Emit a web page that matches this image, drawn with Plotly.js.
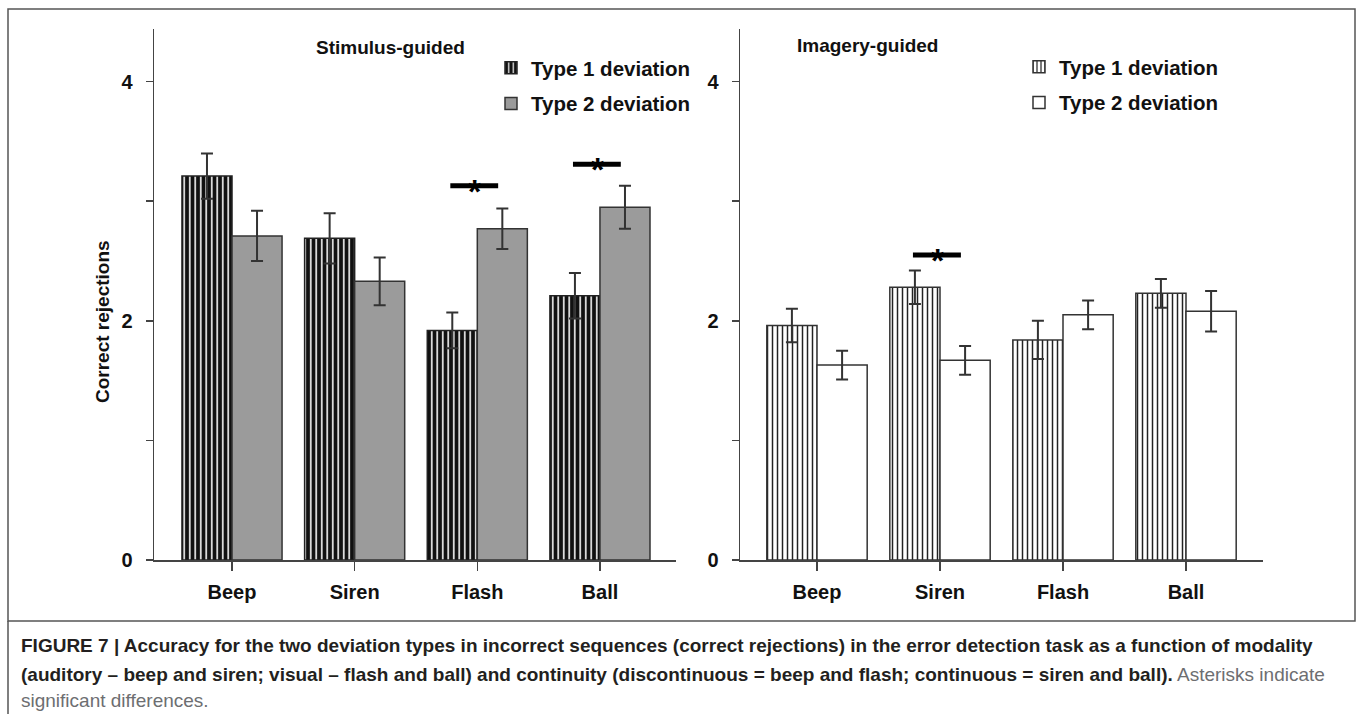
<!DOCTYPE html>
<html>
<head>
<meta charset="utf-8">
<script src="https://cdn.plot.ly/plotly-3.0.1.min.js"></script>
<style>html,body{margin:0;padding:0;background:#fff;}#chart{width:1357px;height:714px;}</style>
</head>
<body>
<div id="chart"></div>
<script>
// ---- data ----
const categories = ["Beep", "Siren", "Flash", "Ball"];
const seriesNames = ["Type 1 deviation", "Type 2 deviation"];

const stimType1 = [3.21, 2.69, 1.92, 2.21];
const stimType1Err = [0.19, 0.21, 0.15, 0.19];
const stimType2 = [2.71, 2.33, 2.77, 2.95];
const stimType2Err = [0.21, 0.20, 0.17, 0.18];

const imagType1 = [1.96, 2.28, 1.84, 2.23];
const imagType1Err = [0.14, 0.14, 0.16, 0.12];
const imagType2 = [1.63, 1.67, 2.05, 2.08];
const imagType2Err = [0.12, 0.12, 0.12, 0.17];

// significance markers: category and height
const stimSigCats = ["Flash", "Ball"];
const stimSigHeights = [3.13, 3.31];
const imagSigCats = ["Siren"];
const imagSigHeights = [2.55];

const yTickVals = [0, 1, 2, 3, 4];
const yTickText = ["0", "", "2", "", "4"];

const panelTitles = ["Stimulus-guided", "Imagery-guided"];
const yTitle = "Correct rejections";
const captionLines = [
  "<b>FIGURE 7 | Accuracy for the two deviation types in incorrect sequences (correct rejections) in the error detection task as a function of modality</b>",
  "<b>(auditory – beep and siren; visual – flash and ball) and continuity (discontinuous = beep and flash; continuous = siren and ball).</b><span style=\"color:#6d6e71\"> Asterisks indicate</span>",
  "<span style=\"color:#6d6e71\">significant differences.</span>"
];

// ---- geometry helpers ----
const W = 1357, H = 714;
const px = v => v / W;
const py = v => 1 - v / H;

const FONT = "Liberation Sans, Arial, Helvetica, sans-serif";
const lineCol = "#444";

const errStyle = arr => ({type: "data", array: arr, visible: true, color: "#333", thickness: 2, width: 6});

const traces = [
  {type: "bar", name: seriesNames[0], x: categories, y: stimType1, xaxis: "x", yaxis: "y",
   error_y: errStyle(stimType1Err), legend: "legend", legendgroup: "a1",
   marker: {color: "#111", line: {color: "#222", width: 1.5},
            pattern: {shape: "|", bgcolor: "#111", fgcolor: "#ffffff", size: 5.5, solidity: 0.28}}},
  {type: "bar", name: seriesNames[1], x: categories, y: stimType2, xaxis: "x", yaxis: "y",
   error_y: errStyle(stimType2Err), legend: "legend", legendgroup: "a2",
   marker: {color: "#9b9b9b", line: {color: "#333", width: 1.5}}},
  {type: "bar", name: seriesNames[0], x: categories, y: imagType1, xaxis: "x2", yaxis: "y2",
   error_y: errStyle(imagType1Err), legend: "legend2", legendgroup: "b1",
   marker: {color: "#ffffff", line: {color: "#333", width: 1.5},
            pattern: {shape: "|", bgcolor: "#ffffff", fgcolor: "#222", size: 5, solidity: 0.3}}},
  {type: "bar", name: seriesNames[1], x: categories, y: imagType2, xaxis: "x2", yaxis: "y2",
   error_y: errStyle(imagType2Err), legend: "legend2", legendgroup: "b2",
   marker: {color: "#ffffff", line: {color: "#333", width: 1.5}}}
];

const shapes = [];
const annotations = [];

function addSig(cats, heights, xr, yr) {
  cats.forEach((c, i) => {
    const idx = categories.indexOf(c);
    shapes.push({type: "line", xref: xr, yref: yr, x0: idx - 0.22, x1: idx + 0.17,
                 y0: heights[i], y1: heights[i], line: {color: "#000", width: 5}});
    annotations.push({xref: xr, yref: yr, x: idx - 0.02, y: heights[i], text: "*", showarrow: false,
                      font: {family: FONT, size: 34, color: "#000", weight: "bold"}, yshift: -5});
  });
}
addSig(stimSigCats, stimSigHeights, "x", "y");
addSig(imagSigCats, imagSigHeights, "x2", "y2");

// frame
shapes.push({type: "rect", xref: "paper", yref: "paper", x0: px(8), x1: px(1355), y0: py(621), y1: py(9),
             line: {color: "#555", width: 1.5}});
shapes.push({type: "line", xref: "paper", yref: "paper", x0: px(8), x1: px(8), y0: py(621), y1: py(714),
             line: {color: "#555", width: 1.5}});

// panel titles
annotations.push({xref: "paper", yref: "paper", x: px(390), y: py(48), text: panelTitles[0], showarrow: false,
                  xanchor: "center", yanchor: "middle", font: {family: FONT, size: 19, color: "#111", weight: "bold"}});
annotations.push({xref: "paper", yref: "paper", x: px(868), y: py(45), text: panelTitles[1], showarrow: false,
                  xanchor: "center", yanchor: "middle", font: {family: FONT, size: 19, color: "#111", weight: "bold"}});
// y title
annotations.push({xref: "paper", yref: "paper", x: px(103), y: py(322), text: yTitle, showarrow: false,
                  textangle: -90, xanchor: "center", yanchor: "middle",
                  font: {family: FONT, size: 19, color: "#111", weight: "bold"}});
// caption
const capY = [645, 674, 700];
captionLines.forEach((t, i) => {
  annotations.push({xref: "paper", yref: "paper", x: px(19), y: py(capY[i]), text: t, showarrow: false,
                    xanchor: "left", yanchor: "middle", align: "left",
                    font: {family: FONT, size: 19, color: "#231f20"}});
});

const yAxisBase = {
  range: [0, 4.44], tickvals: yTickVals, ticktext: yTickText, ticks: "outside", ticklen: 7, tickwidth: 1.5,
  tickcolor: lineCol, showline: true, linecolor: lineCol, linewidth: 1.5, showgrid: false, zeroline: false,
  tickfont: {family: FONT, size: 20, color: "#111", weight: "bold"}, ticklabelstandoff: 9,
  domain: [py(560), py(29)], fixedrange: true
};
const xAxisBase = {
  type: "category", ticks: "outside", ticklen: 9, tickwidth: 1.5, tickcolor: lineCol,
  showline: true, linecolor: lineCol, linewidth: 1.5, showgrid: false, zeroline: false,
  tickfont: {family: FONT, size: 20, color: "#111", weight: "bold"}, ticklabelstandoff: 4, fixedrange: true
};

const legendBase = {
  bgcolor: "rgba(0,0,0,0)", borderwidth: 0, xanchor: "left", yanchor: "top",
  font: {family: FONT, size: 20.5, color: "#111", weight: "bold"},
  traceorder: "grouped", tracegroupgap: 6, itemwidth: 30, itemclick: false, itemdoubleclick: false
};

const layout = {
  width: W, height: H, margin: {l: 0, r: 0, t: 0, b: 0},
  paper_bgcolor: "#fff", plot_bgcolor: "#fff",
  barmode: "group", bargap: 0.184, bargroupgap: 0,
  showlegend: true,
  xaxis: Object.assign({}, xAxisBase, {domain: [px(154), px(676)], range: [-0.636, 3.62], anchor: "y"}),
  yaxis: Object.assign({}, yAxisBase, {anchor: "x"}),
  xaxis2: Object.assign({}, xAxisBase, {domain: [px(740), px(1263)], range: [-0.626, 3.626], anchor: "y2"}),
  yaxis2: Object.assign({}, yAxisBase, {anchor: "x2"}),
  legend: Object.assign({}, legendBase, {x: px(491), y: py(48)}),
  legend2: Object.assign({}, legendBase, {x: px(1019), y: py(47)}),
  shapes: shapes,
  annotations: annotations
};

Plotly.newPlot("chart", traces, layout, {displayModeBar: false, staticPlot: true});
</script>
</body>
</html>
